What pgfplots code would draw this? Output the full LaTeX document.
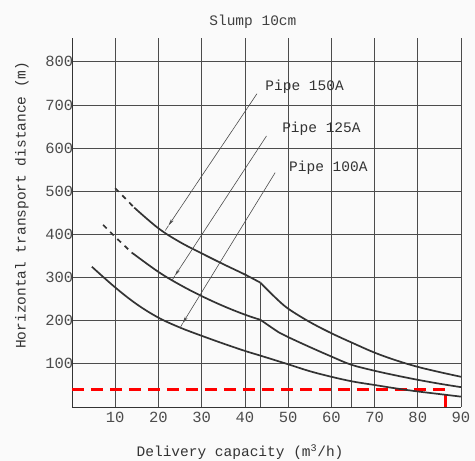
\documentclass[border=0pt]{standalone}
\usepackage{fontspec}
\setmainfont{Liberation Mono}
\usepackage{pgfplots}
\pgfplotsset{compat=1.18}
\usetikzlibrary{arrows.meta,backgrounds}
\begin{document}
\begin{tikzpicture}
\begin{axis}[
  scale only axis, width=389pt, height=369pt,
  xmin=0, xmax=90, ymin=0, ymax=855,
  xtick={10,20,...,90}, ytick={100,200,...,800},
  axis lines=left, axis line style={-, black!80, line width=0.9pt},
  grid=major, grid style={black!70, line width=0.7pt},
  major tick length=0pt,
  /pgf/number format/assume math mode=true,
  tick label style={font=\fontsize{15.5}{17}\selectfont, text=black!70, inner sep=1pt},
  yticklabel style={xshift=2.5pt},
  xticklabel style={yshift=-4pt},
  clip=false,
  every axis plot/.append style={no markers},
]
% red dashed marker
\addplot[red, line width=3pt, dash pattern=on 12pt off 7pt] coordinates {(0,41) (86.5,41) (86.5,0)};
% break lines
\addplot[black!70, line width=0.7pt] coordinates {(43.6,0) (43.6,288)};
\addplot[black!70, line width=0.7pt] coordinates {(64.6,0) (64.6,148)};
% Pipe 150A
\addplot[black!80, line width=1.7pt, dash pattern=on 5pt off 5pt] coordinates {(10,507) (14.4,462)};
\addplot[black!80, line width=1.7pt, smooth, tension=0.6] coordinates {(14.4,462) (20,414) (25,382) (30,356) (35,331) (40,307) (43.6,288)};
\addplot[black!80, line width=1.7pt, smooth, tension=0.6] coordinates {(43.6,288) (47,254) (50,228) (55,197) (60,171) (65,148) (70,126) (75,108) (80,93) (85,81) (90,70)};
% Pipe 125A
\addplot[black!80, line width=1.7pt, dash pattern=on 5pt off 5pt] coordinates {(7.2,422) (10,394) (13.8,358)};
\addplot[black!80, line width=1.7pt, smooth, tension=0.6] coordinates {(13.8,358) (20,313) (25,283) (30,257) (35,234) (40,214) (43.6,202)};
\addplot[black!80, line width=1.7pt, smooth, tension=0.6] coordinates {(43.6,202) (48,172) (50,162) (55,139) (60,117) (64.6,98) (70,84) (75,73) (80,63) (85,54) (90,46)};
% Pipe 100A
\addplot[black!80, line width=1.7pt, smooth, tension=0.6] coordinates {(4.6,325) (10,277) (15,238) (20,207) (25,184) (30,165) (35,147) (40,130) (43.6,119) (50,99) (55,83) (60,70) (65,59) (70,51) (75,43) (80,36) (85,30) (90,24)};
% leaders
\addplot[black!70, line width=0.6pt, -{Stealth[length=7pt,width=3pt]}] coordinates {(42.8,726) (22.3,420)};
\addplot[black!70, line width=0.6pt] coordinates {(22.3,420) (21.6,409)};
\addplot[black!70, line width=0.6pt, -{Stealth[length=7pt,width=3pt]}] coordinates {(45,628) (23.8,304)};
\addplot[black!70, line width=0.6pt] coordinates {(23.8,304) (23.1,293)};
\addplot[black!70, line width=0.6pt, -{Stealth[length=7pt,width=3pt]}] coordinates {(47,543) (25.6,194)};
\addplot[black!70, line width=0.6pt] coordinates {(25.6,194) (25,183)};
% labels
\node[anchor=west, inner sep=0pt, font=\fontsize{14.5}{16}\selectfont, text=black!80] at (axis cs:44.7,741) {Pipe 150A};
\node[anchor=west, inner sep=0pt, font=\fontsize{14.5}{16}\selectfont, text=black!80] at (axis cs:48.6,644) {Pipe 125A};
\node[anchor=west, inner sep=0pt, font=\fontsize{14.5}{16}\selectfont, text=black!80] at (axis cs:50.2,554) {Pipe 100A};
\node[inner sep=0pt, font=\fontsize{14.5}{16}\selectfont, text=black!75] at (rel axis cs:0.465,1.043) {Slump 10cm};
\node[inner sep=0pt, font=\fontsize{14.5}{16}\selectfont, text=black!80] at (rel axis cs:0.432,-0.122) {Delivery capacity (m\textsuperscript{3}/h)};
\node[inner sep=0pt, rotate=90, font=\fontsize{14.5}{16}\selectfont, text=black!80] at (rel axis cs:-0.129,0.547) {Horizontal transport distance (m)};
\end{axis}
\path (current axis.south west) ++(-72pt,-54pt) coordinate (bbl) rectangle ++(475pt,461pt) coordinate (bbr);
\begin{scope}[on background layer]
\fill[black!2] (bbl) rectangle (bbr);
\end{scope}
\end{tikzpicture}
\end{document}
